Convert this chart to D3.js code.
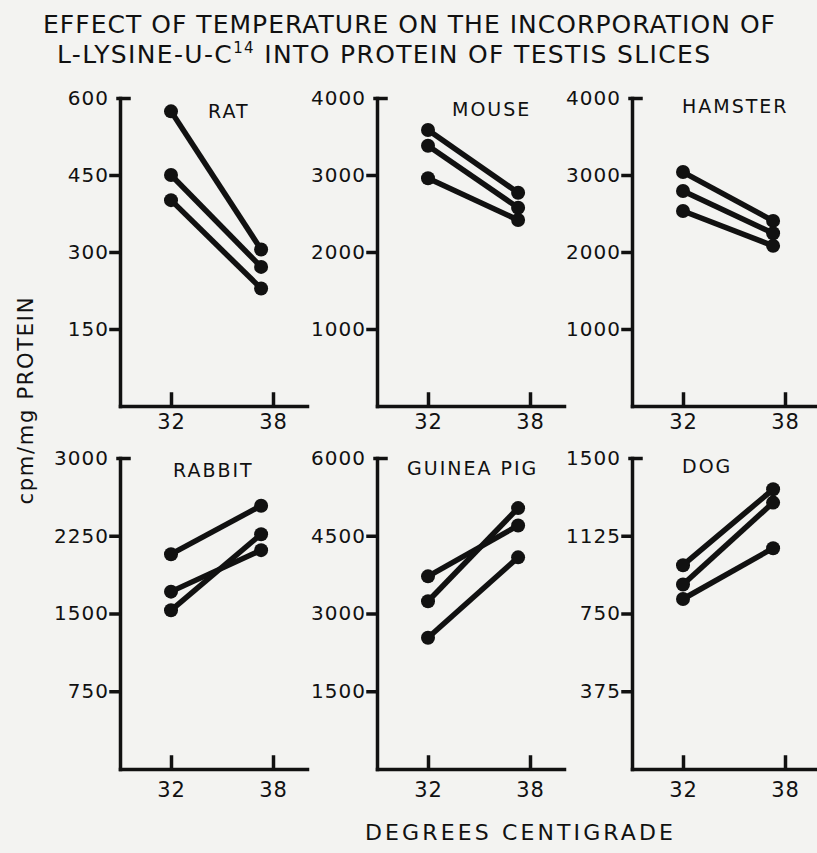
<!DOCTYPE html>
<html>
<head>
<meta charset="utf-8">
<script src="https://cdn.jsdelivr.net/npm/d3@7"></script>
<style>
body { margin: 0; background: #f3f3f1; }
text { font-family: "DejaVu Sans", sans-serif; fill: #111; }
</style>
</head>
<body>
<svg id="chart" width="817" height="853"></svg>
<script>
// values, cpm/mg protein
const species = ["RAT", "MOUSE", "HAMSTER", "RABBIT", "GUINEA PIG", "DOG"]
const yMax = [600, 4000, 4000, 3000, 6000, 1500]
const yTicks = [
    [150, 300, 450, 600],
    [1000, 2000, 3000, 4000],
    [1000, 2000, 3000, 4000],
    [750, 1500, 2250, 3000],
    [1500, 3000, 4500, 6000],
    [375, 750, 1125, 1500]
]
const temps = [32, 37.3]
const xTicks = [32, 38]
const at32 = [
    [574, 450, 401],
    [3584, 3380, 2957],
    [3038, 2792, 2533],
    [2072, 1711, 1531],
    [3717, 3237, 2532],
    [983, 890, 820]
]
const at37 = [
    [305, 271, 229],
    [2770, 2575, 2415],
    [2404, 2243, 2080],
    [2540, 2111, 2265],
    [4698, 5033, 4083],
    [1349, 1285, 1065]
]

// layout
const colX = [120, 377, 632]
const rows = [{ top: 98, bottom: 406, pad: 8 }, { top: 458, bottom: 769, pad: 13 }]
const titlePos = [[88, 20], [75, 18], [50, 15], [53, 19], [30, 17], [50, 15]]
const axisW = 187

const svg = d3.select("#chart")

function drawPanel(i) {
    const ax = colX[i % 3]
    const row = rows[Math.floor(i / 3)]
    const x = d3.scaleLinear().domain([29, 40]).range([ax, ax + axisW])
    const y = d3.scaleLinear().domain([0, yMax[i]]).range([row.bottom, row.top])
    const g = svg.append("g")

    const ya = g.append("g")
        .attr("transform", `translate(${ax},0)`)
        .call(d3.axisLeft(y).tickValues(yTicks[i]).tickFormat(d3.format("d"))
            .tickSize(9).tickSizeOuter(0).tickPadding(2))
    ya.selectAll("text").attr("font-size", 20).attr("letter-spacing", 1)
        .attr("font-family", "DejaVu Sans")
    // top tick points inward
    ya.selectAll(".tick").filter(d => d == yMax[i]).select("line").attr("x1", -2).attr("x2", 9)

    const xa = g.append("g")
        .attr("transform", `translate(0,${row.bottom})`)
        .call(d3.axisBottom(x).tickValues(xTicks).tickSize(-12).tickSizeOuter(0).tickPadding(row.pad))
    xa.selectAll("text").attr("font-size", 21).attr("letter-spacing", 1)
        .attr("font-family", "DejaVu Sans")

    g.selectAll(".domain, .tick line")
        .attr("stroke", "#111").attr("stroke-width", 3.5).attr("stroke-linecap", "square")

    g.append("text")
        .attr("x", ax + titlePos[i][0])
        .attr("y", row.top + titlePos[i][1])
        .attr("font-size", 19)
        .attr("letter-spacing", 2)
        .text(species[i])

    const pairs = at32[i].map((v, k) => [[temps[0], v], [temps[1], at37[i][k]]])
    const line = d3.line().x(d => x(d[0])).y(d => y(d[1]))
    g.selectAll("path.pair").data(pairs).enter().append("path")
        .classed("pair", true)
        .attr("d", line)
        .attr("fill", "none")
        .attr("stroke", "#111")
        .attr("stroke-width", 5.5)
    g.selectAll("circle").data(pairs.flat()).enter().append("circle")
        .attr("cx", d => x(d[0]))
        .attr("cy", d => y(d[1]))
        .attr("r", 7)
        .attr("fill", "#111")
}

species.forEach((s, i) => drawPanel(i))

svg.append("text")
    .attr("x", 43).attr("y", 33)
    .attr("font-size", 25)
    .attr("textLength", 732).attr("lengthAdjust", "spacing")
    .text("EFFECT OF TEMPERATURE ON THE INCORPORATION OF")

const t2 = svg.append("text")
    .attr("x", 57).attr("y", 63)
    .attr("font-size", 25)
    .attr("textLength", 653).attr("lengthAdjust", "spacing")
t2.append("tspan").text("L-LYSINE-U-C")
t2.append("tspan").attr("font-size", 15).attr("dy", -10).text("14")
t2.append("tspan").attr("dy", 10).text(" INTO PROTEIN OF TESTIS SLICES")

svg.append("text")
    .attr("transform", "translate(33,401) rotate(-90)")
    .attr("text-anchor", "middle")
    .attr("font-size", 21)
    .attr("textLength", 207).attr("lengthAdjust", "spacing")
    .text("cpm/mg PROTEIN")

svg.append("text")
    .attr("x", 365).attr("y", 840)
    .attr("font-size", 22)
    .attr("textLength", 308).attr("lengthAdjust", "spacing")
    .text("DEGREES CENTIGRADE")
</script>
</body>
</html>
